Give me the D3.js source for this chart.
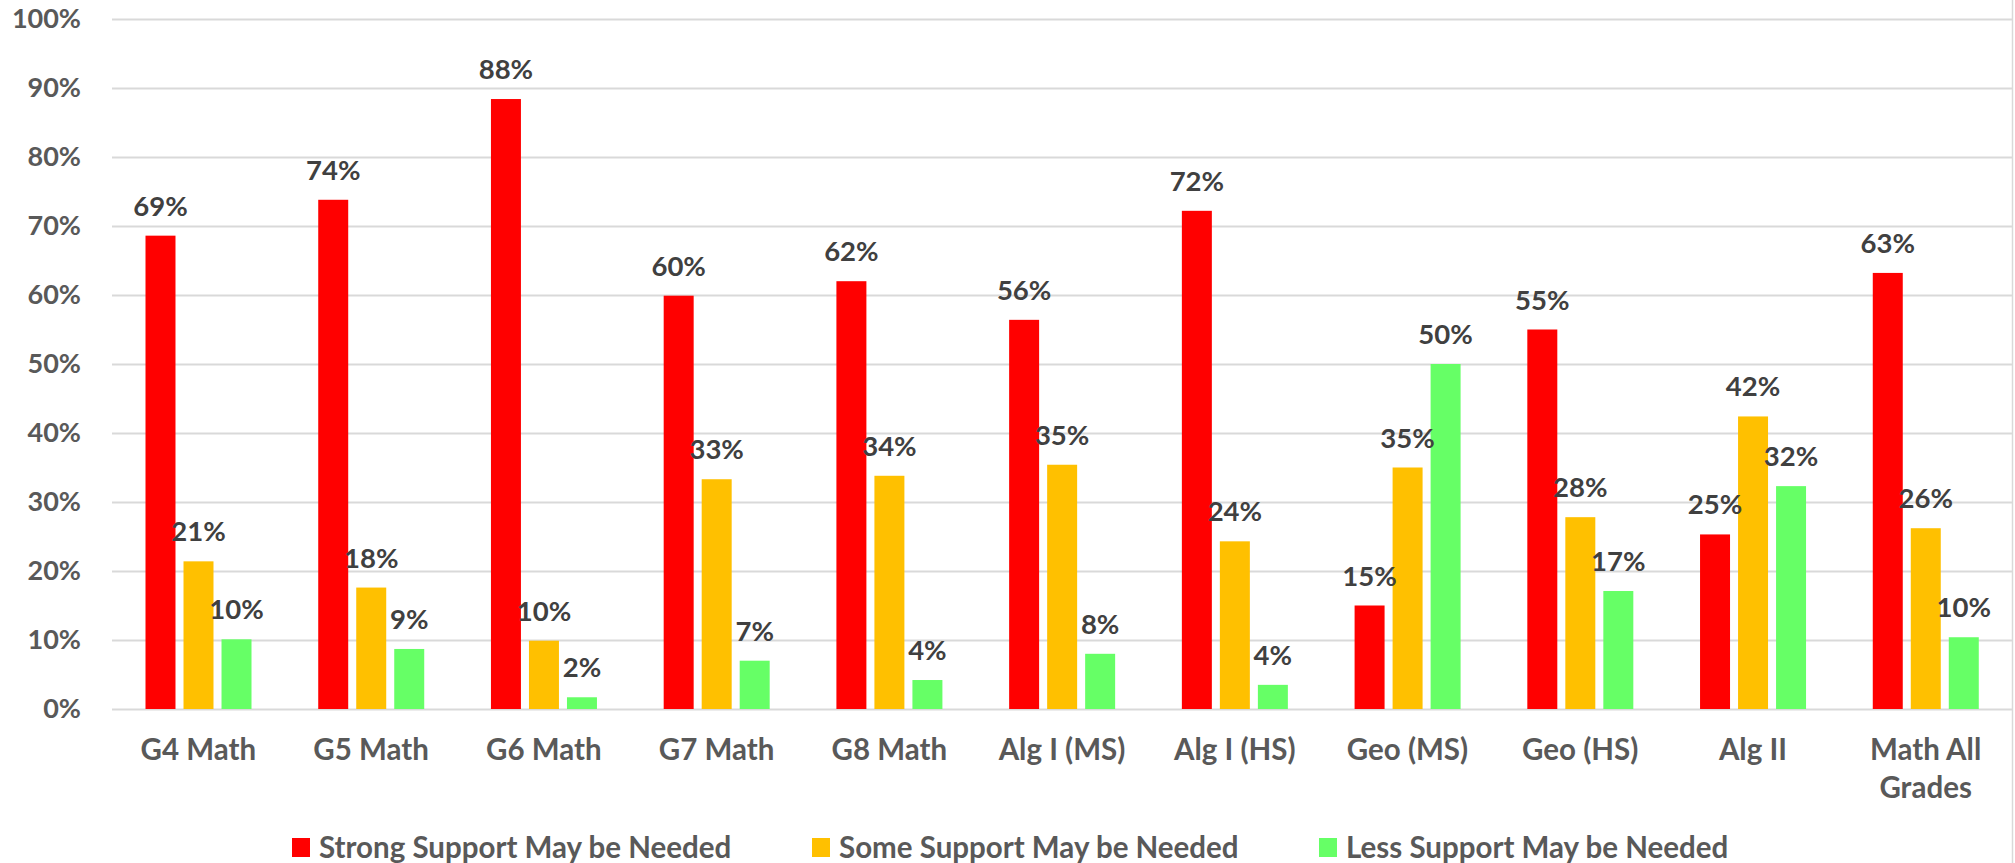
<!DOCTYPE html>
<html>
<head>
<meta charset="utf-8">
<script src="https://cdn.jsdelivr.net/npm/d3@7"></script>
<style>
  html, body { margin: 0; padding: 0; background: #fff; }
  svg { display: block; font-family: Lato, "Open Sans", sans-serif; font-weight: bold; }
</style>
</head>
<body>
<svg id="chart" width="2015" height="863"></svg>
<script>
const categories = ["G4 Math", "G5 Math", "G6 Math", "G7 Math", "G8 Math", "Alg I (MS)", "Alg I (HS)", "Geo (MS)", "Geo (HS)", "Alg II", "Math All Grades"];
const seriesNames = ["Strong Support May be Needed", "Some Support May be Needed", "Less Support May be Needed"];
const seriesColors = ["#FF0000", "#FFC000", "#66FF66"];
const strongValues = [0.686, 0.738, 0.884, 0.599, 0.620, 0.564, 0.722, 0.150, 0.550, 0.253, 0.632];
const someValues   = [0.214, 0.176, 0.099, 0.333, 0.338, 0.354, 0.243, 0.350, 0.278, 0.424, 0.262];
const lessValues   = [0.101, 0.087, 0.017, 0.070, 0.042, 0.080, 0.035, 0.500, 0.171, 0.323, 0.104];
const yTicks = [0, 0.1, 0.2, 0.3, 0.4, 0.5, 0.6, 0.7, 0.8, 0.9, 1.0];

const seriesValues = [strongValues, someValues, lessValues];
const svg = d3.select("#chart");

const plotLeft = 112, plotRight = 2012, plotTop = 19, plotBottom = 709;
const x0 = d3.scaleBand().domain(categories).range([plotLeft, plotRight]).paddingInner(0).paddingOuter(0);
const x1 = d3.scaleBand().domain(seriesNames).range([33.5, 139.5]).paddingInner(0.211).paddingOuter(0);
const y = d3.scaleLinear().domain([0, 1]).range([plotBottom, plotTop]);
const pct = d3.format(".0%");

// Right border
svg.append("line").attr("x1", 2012.5).attr("x2", 2012.5).attr("y1", 0).attr("y2", 863)
  .attr("stroke", "#d9d9d9").attr("stroke-width", 1.5);

// Y axis with gridlines
const yAxis = d3.axisLeft(y).tickValues(yTicks).tickFormat(pct)
  .tickSize(-(plotRight - plotLeft)).tickPadding(31);
const gy = svg.append("g").attr("transform", `translate(${plotLeft},0)`).call(yAxis);
gy.select(".domain").remove();
gy.selectAll(".tick line").attr("stroke", "#d9d9d9").attr("stroke-width", 2);
gy.selectAll(".tick text").attr("fill", "#595959").style("font-size", "27px")
  .style("font-weight", "bold").style("font-family", "Lato, sans-serif");

// Bars
const groups = svg.append("g").selectAll("g").data(categories).join("g")
  .attr("transform", d => `translate(${x0(d)},0)`);

groups.each(function(cat, i) {
  const g = d3.select(this);
  seriesNames.forEach((s, j) => {
    const v = seriesValues[j][i];
    g.append("rect")
      .attr("x", x1(s)).attr("width", x1.bandwidth())
      .attr("y", y(v)).attr("height", y(0) - y(v))
      .attr("fill", seriesColors[j]);
  });
  seriesNames.forEach((s, j) => {
    const v = seriesValues[j][i];
    g.append("text")
      .attr("x", x1(s) + x1.bandwidth() / 2)
      .attr("y", y(v) - 20)
      .attr("text-anchor", "middle")
      .attr("fill", "#404040")
      .style("font-size", "27.5px")
      .text(pct(v));
  });
});

// X axis
const xAxis = d3.axisBottom(x0).tickSize(0).tickPadding(30);
const gx = svg.append("g").attr("transform", `translate(0,${plotBottom})`).call(xAxis);
gx.select(".domain").remove();
gx.selectAll(".tick text").attr("fill", "#595959").style("font-size", "29.5px")
  .style("font-weight", "bold").style("font-family", "Lato, sans-serif")
  .each(function(d) {
    const t = d3.select(this);
    const width = x0.bandwidth() - 6;
    if (this.getComputedTextLength() > width) {
      const words = d.split(" ");
      t.text(null);
      let line = [], lines = [];
      const tmp = t.append("tspan");
      words.forEach(w => {
        line.push(w);
        tmp.text(line.join(" "));
        if (tmp.node().getComputedTextLength() > width && line.length > 1) {
          line.pop();
          lines.push(line.join(" "));
          line = [w];
        }
      });
      lines.push(line.join(" "));
      tmp.remove();
      const dy0 = t.attr("dy");
      lines.forEach((ln, k) => {
        t.append("tspan").attr("x", 0).attr("dy", k === 0 ? dy0 : "1.3em").text(ln);
      });
      t.attr("dy", null);
    }
  });

// Legend
const legendX = [292, 812, 1319];
const legend = svg.append("g").selectAll("g").data(seriesNames).join("g")
  .attr("transform", (d, i) => `translate(${legendX[i]},838)`);
legend.append("rect").attr("width", 18).attr("height", 19).attr("fill", (d, i) => seriesColors[i]);
legend.append("text").attr("x", 27).attr("y", 9.5).attr("dy", "0.35em")
  .attr("fill", "#595959").style("font-size", "29.5px").text(d => d);
</script>
</body>
</html>
